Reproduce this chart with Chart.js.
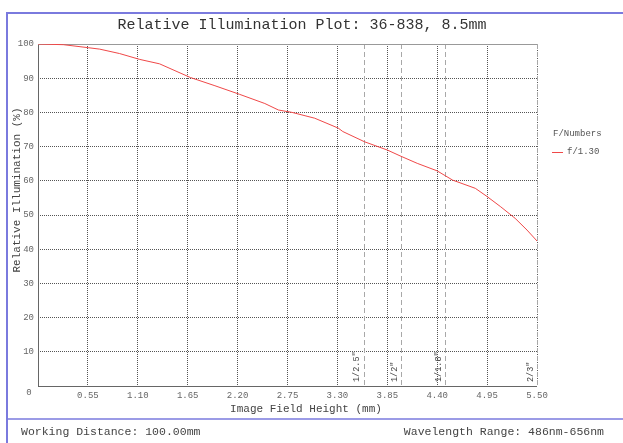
<!DOCTYPE html>
<html>
<head>
<meta charset="utf-8">
<script src="https://cdn.jsdelivr.net/npm/chart.js@4/dist/chart.umd.min.js"></script>
<style>
  html, body { margin: 0; padding: 0; background: #ffffff; }
  #wrap { width: 623px; height: 443px; position: relative; }
</style>
</head>
<body>
<div id="wrap"><canvas id="c" width="623" height="443"></canvas></div>
<script>
// ---- Data ----
const chartTitle = 'Relative Illumination Plot: 36-838, 8.5mm';
const xAxisTitle = 'Image Field Height (mm)';
const yAxisTitle = 'Relative Illumination (%)';
const legendTitle = 'F/Numbers';
const seriesName = 'f/1.30';
const footerLeft = 'Working Distance: 100.00mm';
const footerRight = 'Wavelength Range: 486nm-656nm';

const fieldHeight = [0, 0.28, 0.56, 0.68, 0.90, 1.12, 1.34, 1.68, 1.95, 2.22, 2.50, 2.65, 2.80, 3.05, 3.31, 3.36, 3.60, 3.85, 3.99, 4.18, 4.40, 4.57, 4.82, 4.95, 5.10, 5.26, 5.39, 5.50];
const illumination = [100, 99.8, 98.9, 98.5, 97.2, 95.5, 94.2, 90.2, 87.8, 85.3, 82.6, 80.7, 80.0, 78.3, 75.4, 74.4, 71.4, 69.0, 67.3, 65.1, 62.9, 60.2, 57.8, 55.4, 52.4, 49.0, 45.6, 42.4];

const xTickValues = [0, 0.55, 1.10, 1.65, 2.20, 2.75, 3.30, 3.85, 4.40, 4.95, 5.50];
const yTickValues = [0, 10, 20, 30, 40, 50, 60, 70, 80, 90, 100];

const sensorPositions = [3.59, 4.0, 4.49, 5.5];
const sensorLabels = ['1/2.5"', '1/2"', '1/1.8"', '2/3"'];

// ---- Styling ----
const MONO = '"Liberation Mono", "DejaVu Sans Mono", monospace';
const FRAME_BLUE = '#7a7ade';
const RED = '#f04848';

const points = fieldHeight.map((x, i) => ({ x: x, y: illumination[i] }));

const decorPlugin = {
  id: 'decor',
  beforeDraw(chart) {
    const ctx = chart.ctx;
    ctx.save();
    ctx.fillStyle = '#ffffff';
    ctx.fillRect(0, 0, chart.width, chart.height);
    ctx.restore();
  },
  beforeDatasetsDraw(chart) {
    const ctx = chart.ctx;
    const xs = chart.scales.x, ys = chart.scales.y;
    const a = chart.chartArea;
    ctx.save();
    // sensor dashed lines
    ctx.strokeStyle = '#a8a8a8';
    ctx.lineWidth = 1;
    ctx.setLineDash([5, 3]);
    sensorPositions.forEach((v) => {
      const px = Math.round(xs.getPixelForValue(v)) + 0.5;
      ctx.beginPath();
      ctx.moveTo(px, a.top);
      ctx.lineTo(px, a.bottom);
      ctx.stroke();
    });
    ctx.setLineDash([]);
    // sensor labels
    ctx.fillStyle = '#444';
    ctx.font = '8.5px ' + MONO;
    ctx.textAlign = 'left';
    ctx.textBaseline = 'middle';
    sensorPositions.forEach((v, i) => {
      const px = xs.getPixelForValue(v);
      ctx.save();
      ctx.translate(px - 6.5, ys.getPixelForValue(0) - 4);
      ctx.rotate(-Math.PI / 2);
      ctx.fillText(sensorLabels[i], 0, 0);
      ctx.restore();
    });
    // frame (left, bottom, top solid)
    ctx.strokeStyle = '#666';
    ctx.lineWidth = 1;
    ctx.beginPath();
    ctx.moveTo(Math.round(a.left) + 0.5, a.top);
    ctx.lineTo(Math.round(a.left) + 0.5, Math.round(a.bottom) + 0.5);
    ctx.lineTo(a.right, Math.round(a.bottom) + 0.5);
    ctx.stroke();
    ctx.strokeStyle = '#999';
    ctx.beginPath();
    ctx.moveTo(a.left, Math.round(a.top) + 0.5);
    ctx.lineTo(a.right, Math.round(a.top) + 0.5);
    ctx.stroke();
    ctx.restore();
  },
  afterDraw(chart) {
    const ctx = chart.ctx;
    const a = chart.chartArea;
    ctx.save();
    // outer blue frame
    ctx.strokeStyle = FRAME_BLUE;
    ctx.lineWidth = 2;
    ctx.beginPath();
    ctx.moveTo(7, 443);
    ctx.lineTo(7, 13);
    ctx.lineTo(623, 13);
    ctx.stroke();
    ctx.lineWidth = 1.5;
    ctx.beginPath();
    ctx.moveTo(7, 419);
    ctx.lineTo(623, 419);
    ctx.stroke();

    // title
    ctx.fillStyle = '#333';
    ctx.font = '15px ' + MONO;
    ctx.textAlign = 'center';
    ctx.textBaseline = 'middle';
    ctx.fillText(chartTitle, 302, 25);

    // axis titles
    ctx.fillStyle = '#444';
    ctx.font = '11px ' + MONO;
    ctx.fillText(xAxisTitle, 306, 409);
    ctx.save();
    ctx.translate(17, 190);
    ctx.rotate(-Math.PI / 2);
    ctx.fillText(yAxisTitle, 0, 0);
    ctx.restore();

    // origin label
    ctx.fillStyle = '#666';
    ctx.font = '9px ' + MONO;
    ctx.fillText('0', 29, 393);

    // legend
    ctx.fillStyle = '#555';
    ctx.font = '9px ' + MONO;
    ctx.textAlign = 'left';
    ctx.fillText(legendTitle, 553, 134);
    ctx.strokeStyle = RED;
    ctx.lineWidth = 1;
    ctx.beginPath();
    ctx.moveTo(552, 152.5);
    ctx.lineTo(563, 152.5);
    ctx.stroke();
    ctx.fillText(seriesName, 567, 152);

    // footer
    ctx.fillStyle = '#444';
    ctx.font = '11.5px ' + MONO;
    ctx.textAlign = 'left';
    ctx.fillText(footerLeft, 21, 432);
    ctx.textAlign = 'right';
    ctx.fillText(footerRight, 604, 432);
    ctx.restore();
  }
};

new Chart(document.getElementById('c'), {
  type: 'line',
  data: {
    datasets: [{
      label: seriesName,
      data: points,
      borderColor: RED,
      borderWidth: 1,
      pointRadius: 0,
      tension: 0,
      fill: false
    }]
  },
  options: {
    responsive: false,
    animation: false,
    devicePixelRatio: 1,
    layout: { padding: { left: 0, right: 86, top: 44, bottom: 0 } },
    plugins: { legend: { display: false }, tooltip: { enabled: false }, title: { display: false } },
    scales: {
      x: {
        type: 'linear',
        min: 0, max: 5.5,
        afterBuildTicks(scale) { scale.ticks = xTickValues.map(v => ({ value: v })); },
        afterFit(scale) { scale.height = 57; },
        ticks: {
          autoSkip: false, maxRotation: 0,
          padding: 4,
          color: '#666',
          font: { family: MONO, size: 9 },
          callback(v) { return v === 0 ? '' : Number(v).toFixed(2); }
        },
        grid: { color: '#555', lineWidth: 1, drawTicks: false },
        border: { display: false, dash: [1, 1] }
      },
      y: {
        type: 'linear',
        min: 0, max: 100,
        afterBuildTicks(scale) { scale.ticks = yTickValues.map(v => ({ value: v })); },
        afterFit(scale) { scale.width = 38; },
        ticks: {
          autoSkip: false,
          padding: 4,
          color: '#666',
          font: { family: MONO, size: 9 },
          callback(v) { return v === 0 ? '' : String(v); }
        },
        grid: { color: '#555', lineWidth: 1, drawTicks: false },
        border: { display: false, dash: [1, 1] }
      }
    }
  },
  plugins: [decorPlugin]
});
</script>
</body>
</html>
